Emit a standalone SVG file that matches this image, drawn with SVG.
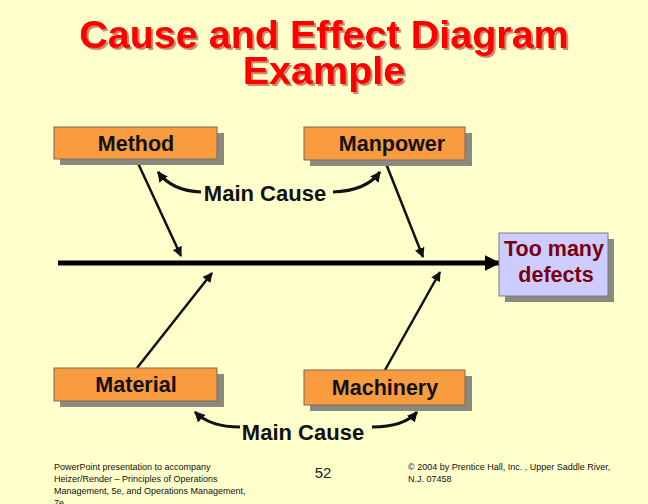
<svg xmlns="http://www.w3.org/2000/svg" width="648" height="504" viewBox="0 0 648 504">
<style>
.t{font-family:"Liberation Sans",Arial,sans-serif}
.title{font-size:39.5px;font-weight:bold;fill:#FF0000;text-anchor:middle}
.box{fill:#F99B3F;stroke:#7a6a55;stroke-width:1}
.ebox{fill:#CCCCFF;stroke:#7a7a8a;stroke-width:1}
.sh{fill:#8a8a80}
.lbl{font-size:21.5px;font-weight:bold;fill:#111;text-anchor:middle}
.mc{font-size:22px;font-weight:bold;fill:#111;text-anchor:middle}
.elbl{font-size:21.5px;font-weight:bold;fill:#7A0010;text-anchor:middle}
.bone{stroke:#111;stroke-width:2.5;fill:none}
.spine{stroke:#000;stroke-width:5;fill:none}
.curve{stroke:#111;stroke-width:3;fill:none}
.foot{font-size:9px;fill:#111}
</style>
<defs>
<filter id="tshadow" x="-5%" y="-20%" width="110%" height="140%">
<feDropShadow dx="2" dy="2" stdDeviation="0.6" flood-color="#8a0000" flood-opacity="0.45"/>
</filter>
<marker id="ah" viewBox="0 0 10 10" refX="9" refY="5" markerWidth="4" markerHeight="4" orient="auto" markerUnits="strokeWidth"><path d="M0,0 L10,5 L0,10 z" fill="#111"/></marker>
<marker id="ahs" viewBox="0 0 10 10" refX="9" refY="5" markerWidth="3.2" markerHeight="3.2" orient="auto" markerUnits="strokeWidth"><path d="M0,0 L10,5 L0,10 z" fill="#000"/></marker>
<marker id="ahc" viewBox="0 0 10 10" refX="9" refY="5" markerWidth="3.5" markerHeight="3.5" orient="auto" markerUnits="strokeWidth"><path d="M0,0 L10,5 L0,10 z" fill="#111"/></marker>
</defs>
<rect width="648" height="504" fill="#FFFFCC"/>
<g id="title" class="t" filter="url(#tshadow)">
<text class="title" x="324" y="48">Cause and Effect Diagram</text>
<text class="title" x="324" y="84">Example</text>
</g>
<g id="connectors">
<line class="spine" x1="58" y1="263" x2="499" y2="263" marker-end="url(#ahs)"/>
<line class="bone" x1="137" y1="161" x2="181" y2="256" marker-end="url(#ah)"/>
<line class="bone" x1="385" y1="161" x2="423" y2="257" marker-end="url(#ah)"/>
<line class="bone" x1="137" y1="368" x2="212" y2="273" marker-end="url(#ah)"/>
<line class="bone" x1="385" y1="370" x2="440" y2="272" marker-end="url(#ah)"/>
<path class="curve" d="M201,192 Q172,191 158,172" marker-end="url(#ahc)"/>
<path class="curve" d="M333,192 Q366,191 380,172" marker-end="url(#ahc)"/>
<path class="curve" d="M240,427 Q210,427 195,412" marker-end="url(#ahc)"/>
<path class="curve" d="M372,427 Q404,427 417,412" marker-end="url(#ahc)"/>
</g>
<g id="method">
<rect class="sh" x="60" y="133" width="164" height="32"/>
<rect class="box" x="54" y="127" width="163" height="32"/>
<text class="t lbl" x="136" y="151">Method</text>
</g>
<g id="manpower">
<rect class="sh" x="310" y="133" width="162" height="33"/>
<rect class="box" x="304" y="127" width="161" height="33"/>
<text class="t lbl" x="392" y="151">Manpower</text>
</g>
<g id="material">
<rect class="sh" x="60" y="374" width="164" height="33"/>
<rect class="box" x="54" y="368" width="163" height="33"/>
<text class="t lbl" x="136" y="392">Material</text>
</g>
<g id="machinery">
<rect class="sh" x="310" y="376" width="162" height="35"/>
<rect class="box" x="304" y="370" width="161" height="35"/>
<text class="t lbl" x="385" y="395">Machinery</text>
</g>
<g id="effect">
<rect class="sh" x="505" y="239" width="109" height="63"/>
<rect class="ebox" x="499" y="233" width="109" height="63"/>
<text class="t elbl" x="554" y="256">Too many</text>
<text class="t elbl" x="556" y="282">defects</text>
</g>
<g id="cause-top">
<text class="t mc" x="265" y="201">Main Cause</text>
</g>
<g id="cause-bottom">
<text class="t mc" x="303" y="440">Main Cause</text>
</g>
<g id="footer" class="t">
<text class="foot" x="54" y="470">PowerPoint presentation to accompany</text>
<text class="foot" x="54" y="482">Heizer/Render – Principles of Operations</text>
<text class="foot" x="54" y="494">Management, 5e, and Operations Management,</text>
<text class="foot" x="54" y="506">7e</text>
<text x="323" y="478" font-size="15" fill="#222" text-anchor="middle">52</text>
<text class="foot" x="408" y="470">© 2004 by Prentice Hall, Inc. ,  Upper Saddle River,</text>
<text class="foot" x="408" y="482">N.J. 07458</text>
</g>
</svg>
